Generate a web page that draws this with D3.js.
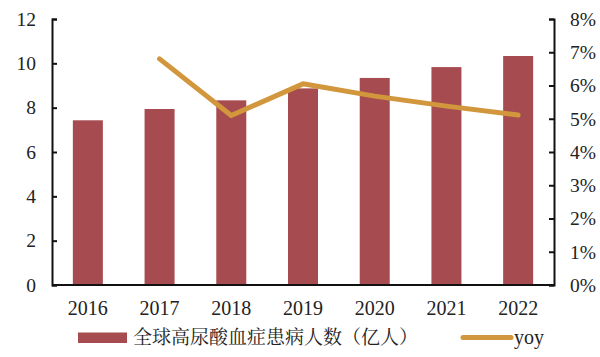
<!DOCTYPE html>
<html><head><meta charset="utf-8">
<script src="https://cdn.jsdelivr.net/npm/d3@7"></script>
<style>
body{margin:0;background:#fff;}
svg text{font-family:"Liberation Serif","Times New Roman",serif;fill:#222;}
</style></head>
<body><svg id="c" width="600" height="357"></svg>
<script>
const years = ["2016","2017","2018","2019","2020","2021","2022"];
const patients = [7.43, 7.94, 8.33, 8.87, 9.34, 9.83, 10.33];
const yoyYears = ["2017","2018","2019","2020","2021","2022"];
const yoy = [0.068, 0.051, 0.0605, 0.0568, 0.0538, 0.0511];
const leftTicks = [0,2,4,6,8,10,12];
const rightTicks = [0,0.01,0.02,0.03,0.04,0.05,0.06,0.07,0.08];
const barLabel = "全球高尿酸血症患病人数（亿人）";
const lineLabel = "yoy";

const barColor = "#A64B4F", lineColor = "#D2963C";
const svg = d3.select("#c");
const L = 52, R = 554, T = 19, B = 285;
const step = (R-L)/years.length, bw = 30;
const pi = 1 - bw/step;
const x = d3.scaleBand().domain(years).range([L,R]).paddingInner(pi).paddingOuter(pi/2);
const yL = d3.scaleLinear().domain([0,12]).range([B,T]);
const yR = d3.scaleLinear().domain([0,0.08]).range([B,T]);

svg.append("g").selectAll("rect").data(years).join("rect")
  .attr("x", d=>x(d)).attr("width", x.bandwidth())
  .attr("y", (d,i)=>yL(patients[i])).attr("height",(d,i)=>B-yL(patients[i]))
  .attr("fill", barColor);

const cx = d => x(d)+x.bandwidth()/2;
svg.append("path").datum(yoy)
  .attr("d", d3.line().x((d,i)=>cx(yoyYears[i])).y(d=>yR(d)))
  .attr("fill","none").attr("stroke",lineColor).attr("stroke-width",5)
  .attr("stroke-linecap","round").attr("stroke-linejoin","round");

const gl = svg.append("g").attr("transform",`translate(${L},0)`)
  .call(d3.axisLeft(yL).tickValues(leftTicks).tickSize(-5).tickPadding(16).tickFormat(d3.format("d")));
const gr = svg.append("g").attr("transform",`translate(${R},0)`)
  .call(d3.axisRight(yR).tickValues(rightTicks).tickSize(-5).tickPadding(16).tickFormat(d3.format(".0%")));
const gb = svg.append("g").attr("transform",`translate(0,${B})`)
  .call(d3.axisBottom(x).tickSize(0).tickPadding(16));
[gl,gr,gb].forEach(g=>{
  g.selectAll("path.domain").attr("stroke","#111").attr("stroke-width",2);
  g.selectAll(".tick line").attr("stroke","#111").attr("stroke-width",2);
  g.selectAll("text").style("font-family",'"Liberation Serif","Times New Roman",serif').attr("font-size",19.5).attr("fill","#222");
});
gb.selectAll("text").attr("font-size",20);
gb.select("path.domain").attr("d",`M${L},0H${R}`);

// legend
const lg = svg.append("g");
lg.append("rect").attr("x",78).attr("y",332.5).attr("width",49).attr("height",10.5).attr("fill",barColor);
lg.append("text").attr("x",133).attr("y",344).attr("font-size",19)
  .style("font-family",'"Noto Serif CJK SC","Noto Sans CJK SC","Noto Sans CJK JP",sans-serif').attr("fill","#222").text(barLabel);
lg.append("line").attr("x1",463).attr("x2",511).attr("y1",337.5).attr("y2",337.5)
  .attr("stroke",lineColor).attr("stroke-width",5).attr("stroke-linecap","round");
lg.append("text").attr("x",514).attr("y",344).attr("font-size",20).text(lineLabel);
</script></body></html>
